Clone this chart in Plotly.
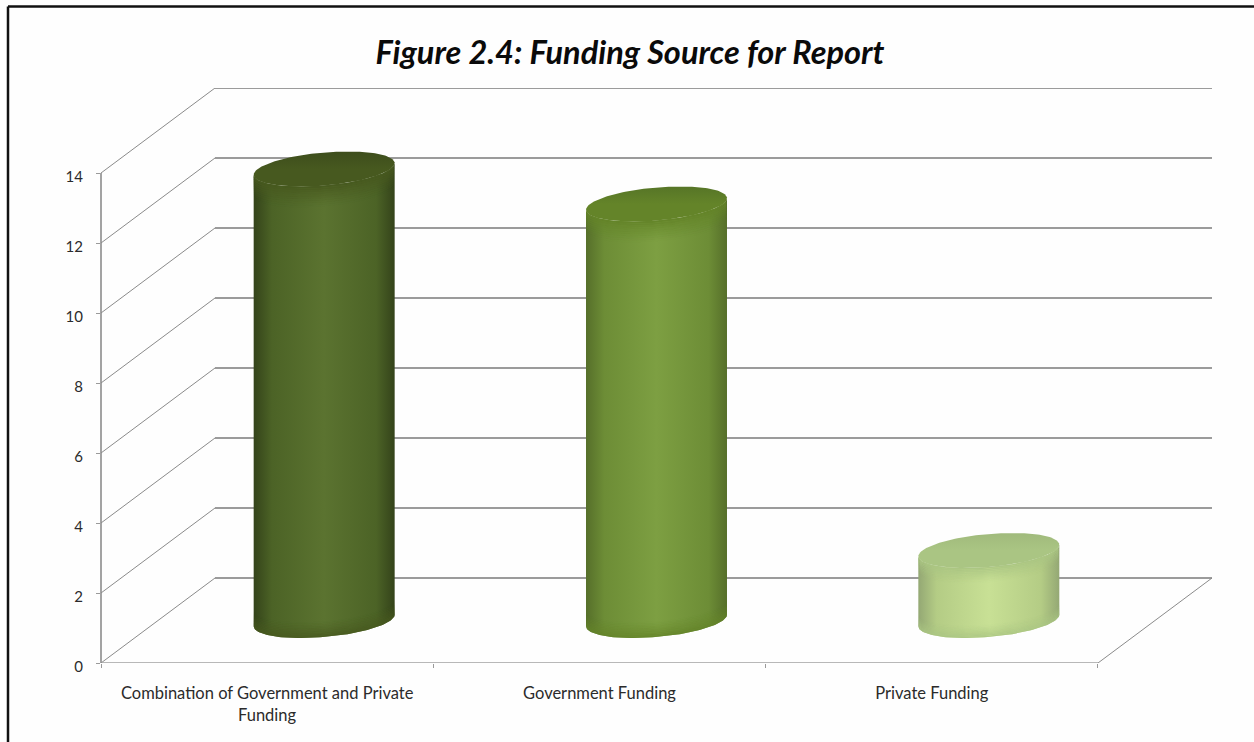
import numpy as np
import plotly.graph_objects as go

# Chart content
title_text = "Figure 2.4: Funding Source for Report"
categories = ["Combination of Government and Private", "Government Funding", "Private Funding"]
category_second_lines = ["Funding", "", ""]
values = [12.9, 11.9, 2.0]
value_ticks = [0, 2, 4, 6, 8, 10, 12, 14]

# Cylinder shading: edge, shoulder, centre, top cap front, top cap far rim
edge_colors = ["#34431a", "#566f2a", "#94a874"]
mid_colors = ["#4c6326", "#6d8d36", "#b4cc85"]
centre_colors = ["#5b7330", "#7d9f42", "#c8e095"]
cap_colors = ["#47591f", "#648429", "#aac583"]
cap_far_colors = ["#3d4d1c", "#567527", "#a0ba7c"]

# Oblique projection: one unit of depth in category and value units
W, H = 1254, 742
LEFT, RIGHT, TOP, BOTTOM = 101, 1213, 88, 663
CAT_PX = 332.33
UNIT_PX = 35.0
DEPTH_X = 114 / CAT_PX
DEPTH_Y = 85 / UNIT_PX
N_CATS = len(categories)
R_CAT, R_DEPTH = 0.2, 0.206
GRID = "#8a8a8a"
FADE_STEPS = 10


def project(cat, depth, value):
    return cat + depth * DEPTH_X, value + depth * DEPTH_Y


def ring(i, value, t):
    c = i + 0.5 + R_CAT * np.cos(t)
    d = 0.5 + R_DEPTH * np.sin(t)
    return project(c, d, value)


def h_scale(edge, mid, centre):
    return [[0, edge], [0.13, mid], [0.5, centre], [0.87, mid], [1, edge]]


def rgba(hex_color, alpha):
    r, g, b = [int(hex_color[k:k + 2], 16) for k in (1, 3, 5)]
    return f"rgba({r},{g},{b},{alpha:.3f})"


fig = go.Figure()


def add_line(xs, ys, color=GRID, width=1.3):
    fig.add_trace(go.Scatter(x=xs, y=ys, mode="lines", hoverinfo="skip", showlegend=False,
                             cliponaxis=False, line=dict(color=color, width=width)))


def add_fade(xs, ys, height, color, direction, strength):
    """Stack of thin strips that follow an arc and fade away from it."""
    step = height / FADE_STEPS
    for k in range(FADE_STEPS):
        alpha = strength * (1 - (k + 0.5) / FADE_STEPS) ** 1.3
        fig.add_trace(go.Scatter(
            x=np.r_[xs, xs[::-1]],
            y=np.r_[ys + direction * k * step, ys[::-1] + direction * (k + 1) * step],
            mode="lines", fill="toself", fillcolor=rgba(color, alpha),
            line=dict(width=0), hoverinfo="skip", showlegend=False))


# Walls: side-wall diagonals and back-wall gridlines
for v in value_ticks:
    x0, y0 = project(0, 0, v)
    x1, y1 = project(0, 1, v)
    x2, y2 = project(N_CATS, 1, v)
    add_line([x0, x1], [y0, y1], width=1.0)
    add_line([x1, x2], [y1, y2], color="#7a7a7a", width=1.4)

# Floor and front axis lines
add_line([0, N_CATS], [0, 0], color="#a0a0a0")
x_end, y_end = project(N_CATS, 1, 0)
add_line([N_CATS, x_end], [0, y_end], width=1.0)

# Cylinders
phi = np.arctan2(R_DEPTH * DEPTH_X, R_CAT)
front = np.linspace(phi + np.pi, phi + 2 * np.pi, 80)
whole = np.linspace(0, 2 * np.pi, 160)

for i, value in enumerate(values):
    bx, by = ring(i, 0, front)
    tx, ty = ring(i, value, front)
    x_min, x_max = bx[0], bx[-1]

    # Body with horizontal shading
    fig.add_trace(go.Scatter(
        x=np.r_[bx, tx[::-1]], y=np.r_[by, ty[::-1]], mode="lines", fill="toself",
        line=dict(width=0), hoverinfo="skip", showlegend=False,
        fillgradient=dict(type="horizontal", start=x_min, stop=x_max,
                          colorscale=h_scale(edge_colors[i], mid_colors[i], centre_colors[i]))))

    # Soft dark band under the cap and along the base
    add_fade(tx, ty, min(0.6, value * 0.22), cap_colors[i], -1, 1.0)
    add_fade(bx, by, min(0.45, value * 0.18), cap_colors[i], 1, 0.9)

    # Top cap
    cx, cy = ring(i, value, whole)
    fig.add_trace(go.Scatter(
        x=cx, y=cy, mode="lines", fill="toself",
        line=dict(width=0), hoverinfo="skip", showlegend=False,
        fillgradient=dict(type="vertical", start=cy.min(), stop=cy.max(),
                          colorscale=[[0, cap_colors[i]], [0.5, cap_colors[i]], [1, cap_far_colors[i]]])))

font_family = "Lato, 'Open Sans', sans-serif"
x_range_end = (RIGHT - LEFT) / CAT_PX
y_range_end = (BOTTOM - TOP) / UNIT_PX


def px_x(p):
    return (p - LEFT) / (RIGHT - LEFT)


def px_y(p):
    return (BOTTOM - p) / (BOTTOM - TOP)


# Second lines of wrapped category labels
annotations = [
    dict(x=k + 0.5, y=px_y(715), xref="x", yref="paper", text=line, showarrow=False,
         font=dict(family=font_family, size=16.5, color="#2b2b2b"), xanchor="center", yanchor="middle")
    for k, line in enumerate(category_second_lines) if line
]

# Frame along the top and left of the page, plus the front value axis line
shapes = [
    dict(type="line", xref="paper", yref="paper", x0=px_x(8), x1=px_x(1260), y0=px_y(6.5), y1=px_y(6.5),
         line=dict(color="#111111", width=2.5)),
    dict(type="line", xref="paper", yref="paper", x0=px_x(8), x1=px_x(8), y0=px_y(6.5), y1=px_y(750),
         line=dict(color="#111111", width=2.5)),
    dict(type="line", xref="paper", yref="paper", x0=0, x1=0,
         y0=0, y1=value_ticks[-1] / y_range_end,
         line=dict(color="#8c8c8c", width=1.6)),
]

fig.update_layout(
    width=W, height=H, autosize=False,
    margin=dict(l=LEFT, r=W - RIGHT, t=TOP, b=H - BOTTOM, pad=0),
    paper_bgcolor="#fefefe", plot_bgcolor="rgba(0,0,0,0)",
    showlegend=False, annotations=annotations, shapes=shapes,
    title=dict(text=title_text, x=630 / W, xref="container", xanchor="center",
               y=1 - 53 / H, yref="container", yanchor="middle",
               font=dict(family=font_family, size=32.5, weight=700, style="italic", color="#0a0a0a")),
    xaxis=dict(range=[0, x_range_end], showgrid=False, zeroline=False, showline=False,
               tickmode="array", tickvals=[k + 0.5 for k in range(N_CATS)], ticktext=categories,
               ticks="", ticklabelstandoff=18,
               tickfont=dict(family=font_family, size=16.5, color="#2b2b2b"),
               minor=dict(tickmode="array", tickvals=list(range(N_CATS + 1)), ticks="outside",
                          ticklen=4, tickcolor="#9a9a9a", tickwidth=1, showgrid=False)),
    yaxis=dict(range=[0, y_range_end], showgrid=False, zeroline=False, showline=False,
               tickmode="array", tickvals=value_ticks, ticks="outside", ticklen=4,
               tickcolor="#9a9a9a", tickwidth=1, ticklabelstandoff=10, ticklabelshift=4,
               tickfont=dict(family=font_family, size=15, color="#2b2b2b")),
)

fig.write_html("out.html")
